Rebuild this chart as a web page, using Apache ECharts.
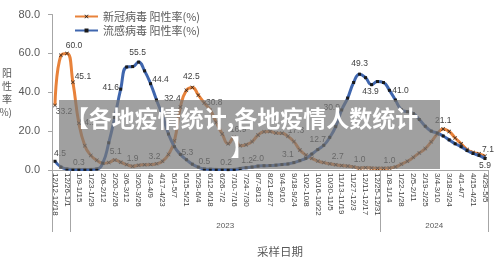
<!DOCTYPE html>
<html>
<head>
<meta charset="utf-8">
<script src="https://cdn.jsdelivr.net/npm/echarts@6.0.0/dist/echarts.min.js"></script>
<style>
  html, body { margin: 0; padding: 0; background: #fff; }
  #chart { width: 500px; height: 269px; }
</style>
</head>
<body>
<div id="chart"></div>
<script>
// weekly sampling periods, 2022-12-12 .. 2024-05-05
const weeks = [
  '12/12-12/18','12/19-12/25','12/26-1/1','1/2-1/8','1/9-1/15','1/16-1/22','1/23-1/29','1/30-2/5',
  '2/6-2/12','2/13-2/19','2/20-2/26','2/27-3/5','3/6-3/12','3/13-3/19','3/20-3/26','3/27-4/2',
  '4/3-4/9','4/10-4/16','4/17-4/23','4/24-4/30','5/1-5/7','5/8-5/14','5/15-5/21','5/22-5/28',
  '5/29-6/4','6/5-6/11','6/12-6/18','6/19-6/25','6/26-7/2','7/3-7/9','7/10-7/16','7/17-7/23',
  '7/24-7/30','7/31-8/6','8/7-8/13','8/14-8/20','8/21-8/27','8/28-9/3','9/4-9/10','9/11-9/17',
  '9/18-9/24','9/25-10/1','10/2-10/8','10/9-10/15','10/16-10/22','10/23-10/29','10/30-11/5','11/6-11/12',
  '11/13-11/19','11/20-11/26','11/27-12/3','12/4-12/10','12/11-12/17','12/18-12/24','12/25-12/31','1/1-1/7',
  '1/8-1/14','1/15-1/21','1/22-1/28','1/29-2/4','2/5-2/11','2/12-2/18','2/19-2/25','2/26-3/3',
  '3/4-3/10','3/11-3/17','3/18-3/24','3/25-3/31','4/1-4/7','4/8-4/14','4/15-4/21','4/22-4/28','4/29-5/5'
];

// 新冠病毒 阳性率(%)
const covidRate = [
  33.2, 59.0, 60.0, 45.1, 24.1, 12.5, 7.5, 5.0, 3.5, 3.8,
  5.1, 4.0, 2.8, 1.9, 2.5, 2.7, 2.8, 3.2, 4.5, 8.0,
  15.0, 32.4, 41.0, 42.5, 38.5, 34.5, 30.8, 24.5, 18.5, 13.5,
  16.9, 12.5, 13.0, 14.6, 18.0, 19.7, 19.8, 19.0, 18.9, 17.3,
  14.6, 10.3, 7.7, 6.0, 4.6, 3.8, 3.2, 2.7, 2.3, 2.0,
  1.6, 1.0, 1.2, 1.0, 0.9, 0.9, 1.0, 1.6, 3.0, 4.5,
  6.5, 8.8, 11.0, 14.5, 18.5, 21.1, 19.8, 16.5, 13.5, 10.5,
  9.0, 8.3, 7.1
];

// 流感病毒 阳性率(%)
const fluRate = [
  4.5, 1.5, 0.5, 0.3, 0.3, 0.3, 0.3, 0.5, 3.5, 14.0,
  27.0, 41.6, 53.0, 53.2, 55.5, 51.0, 44.4, 36.0, 28.0, 18.5,
  12.0, 8.0, 5.3, 3.0, 1.5, 0.5, 0.4, 0.3, 0.3, 0.2,
  0.3, 0.8, 1.2, 1.5, 2.0, 2.2, 2.3, 2.5, 2.8, 3.1,
  3.8, 4.8, 6.0, 8.2, 10.5, 12.7, 16.8, 22.3, 30.9, 37.0,
  45.0, 49.3, 47.5, 43.9, 45.5, 45.0, 41.0, 36.0, 31.0, 30.0,
  29.0, 26.0, 22.5, 20.0, 19.0, 17.5, 15.5, 13.5, 12.0, 10.0,
  8.5, 7.5, 5.9
];

// which points carry a value label, and where the label sits (offset from the point)
const covidLabelAt = {
  0: [9, 6], 2: [7, -8], 3: [10, -6], 4: [9, 0], 10: [1, -8], 13: [0, -8], 17: [-2, -7],
  21: [-8, -8], 23: [-1, -11], 26: [4, -7], 30: [4, -7], 39: [8, -6], 47: [2, -8],
  51: [0, -8], 56: [0, -7], 65: [0, -8], 72: [3, -7]
};
const fluLabelAt = {
  0: [5, -8], 4: [0, -7], 11: [-10, -1], 14: [-1, -9], 16: [10, -4], 22: [1, -7],
  25: [0, -7], 29: [-2, -7], 32: [1, -7], 34: [0, -7], 39: [0, -9], 45: [-6, -6],
  48: [-10, -2], 51: [0, -11], 53: [-1, 7], 56: [11, 0], 72: [0, 7]
};

// year groups under the week labels (boundaries in weeks, label at the middle)
const yearBounds = [0, 3, 55, 73];
const yearMids = [29, 64];
const yearNames = ['2023', '2024'];

function withLabels(values, labelAt) {
  return values.map((v, i) => labelAt[i]
    ? { value: v, label: { show: true, offset: labelAt[i] } }
    : v);
}

const crossMark = 'path://M0,1L1,0L5,4L9,0L10,1L6,5L10,9L9,10L5,6L1,10L0,9L4,5Z';
const gray = '#595959';
const axisGray = '#a6a6a6';

const chart = echarts.init(document.getElementById('chart'));

const valueLabel = {
  show: false,
  position: 'inside',
  color: '#404040',
  fontSize: 8.5,
  fontFamily: 'Liberation Sans',
  formatter: p => Number(p.value).toFixed(1)
};

chart.setOption({
  animation: false,
  backgroundColor: '#fff',
  grid: { left: 52, right: 12, top: 14.5, bottom: 99, outerBoundsMode: 'none' },
  legend: {
    orient: 'vertical',
    left: 69,
    top: 6,
    itemWidth: 23,
    itemHeight: 5,
    itemGap: 3,
    textStyle: { color: gray, fontSize: 11, fontFamily: 'Noto Sans CJK SC' },
    data: ['新冠病毒 阳性率(%)', '流感病毒 阳性率(%)']
  },
  xAxis: [
    {
      type: 'category',
      data: weeks,
      boundaryGap: true,
      name: '采样日期',
      nameLocation: 'middle',
      nameGap: 76,
      nameTextStyle: { color: gray, fontSize: 11.5, fontFamily: 'Noto Sans CJK SC', padding: [0, 0, 0, 20] },
      axisLine: { lineStyle: { color: axisGray } },
      axisTick: { interval: 0, length: 48, lineStyle: { color: axisGray } },
      axisLabel: {
        interval: 1,
        rotate: -90,
        margin: 3,
        fontSize: 8,
        color: '#404040',
        fontFamily: 'Liberation Sans'
      },
      splitLine: { show: false }
    },
    {
      type: 'value',
      position: 'bottom',
      min: 0,
      max: 73,
      axisLine: { show: false },
      splitLine: { show: false },
      axisTick: { show: true, customValues: yearBounds, length: 62, lineStyle: { color: axisGray } },
      axisLabel: {
        customValues: yearMids,
        margin: 52,
        fontSize: 8,
        color: gray,
        fontFamily: 'Liberation Sans',
        formatter: v => yearNames[yearMids.indexOf(v)] || ''
      }
    }
  ],
  yAxis: {
    type: 'value',
    min: 0,
    max: 80,
    interval: 20,
    name: '阳\n性\n率\n(%)',
    nameLocation: 'middle',
    nameRotate: 0,
    nameGap: 40,
    nameTextStyle: { color: gray, fontSize: 10, lineHeight: 13, fontFamily: 'Noto Sans CJK SC' },
    axisLine: { show: true, lineStyle: { color: axisGray } },
    axisTick: { show: true, length: 4, lineStyle: { color: axisGray } },
    axisLabel: {
      margin: 12,
      color: gray,
      fontSize: 11,
      fontFamily: 'Liberation Sans',
      formatter: v => v.toFixed(1)
    },
    splitLine: { show: false }
  },
  series: [
    {
      name: '新冠病毒 阳性率(%)',
      type: 'line',
      smooth: true,
      color: '#E8823A',
      data: withLabels(covidRate, covidLabelAt),
      symbol: crossMark,
      symbolSize: 4,
      showAllSymbol: true,
      itemStyle: { color: '#1a1a1a' },
      lineStyle: { color: '#E8823A', width: 3 },
      label: valueLabel,
      z: 2
    },
    {
      name: '流感病毒 阳性率(%)',
      type: 'line',
      smooth: true,
      color: '#3F66AE',
      data: withLabels(fluRate, fluLabelAt),
      symbol: 'rect',
      symbolSize: 3,
      showAllSymbol: true,
      itemStyle: { color: '#1a1a1a' },
      lineStyle: { color: '#3F66AE', width: 3 },
      label: valueLabel,
      z: 3
    }
  ],
  graphic: [
    {
      type: 'rect',
      z: 100,
      shape: { x: 59, y: 100, width: 381, height: 69 },
      style: { fill: 'rgba(120,120,120,0.7)' }
    },
    {
      type: 'text',
      z: 101,
      x: 242,
      y: 104,
      style: {
        text: '【各地疫情统计,各地疫情人数统计\n】',
        fill: '#fff',
        align: 'center',
        font: 'bold 23px "Noto Sans CJK SC"',
        lineHeight: 29
      }
    }
  ]
});
</script>
</body>
</html>
